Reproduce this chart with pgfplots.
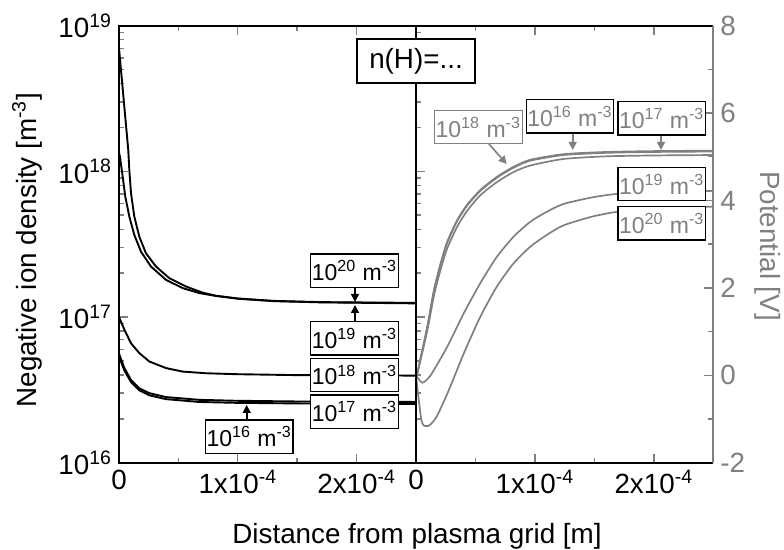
\documentclass[border=0pt]{standalone}
\usepackage{fontspec}
\setmainfont{Liberation Sans}
\usepackage{pgfplots}
\pgfplotsset{compat=1.18}
\usetikzlibrary{arrows.meta}
\definecolor{potgray}{RGB}{128,128,128}
\newcommand{\lbl}[1]{10\textsuperscript{#1} m\textsuperscript{-3}}
\newcommand{\bigfont}{\fontsize{13.9}{16}\selectfont}
\newcommand{\boxfont}{\fontsize{11.5}{14}\selectfont}

\pgfplotsset{
  panel/.style={
    scale only axis, width=148.5pt, height=218.5pt,
    xmin=0, xmax=2.5e-4,
    scaled x ticks=false,
    xtick={0,1e-4,2e-4},
    xticklabels={0,{1x10\textsuperscript{-4}},{2x10\textsuperscript{-4}}},
    minor xtick={5e-5,1.5e-4},
    xtick pos=both, xticklabel pos=bottom,
    tick align=inside,
    major tick length=4.5pt, minor tick length=2.5pt,
    tick style={line width=0.7pt},
    tick label style={font=\bigfont},
    axis line style={line width=1pt},
  },
  pot/.style={potgray, line width=0.85pt, mark=none, smooth, tension=0.4},
  dens/.style={black, line width=0.95pt, mark=none},
}
\tikzset{
  box/.style={draw, line width=0.6pt, fill=white, font=\boxfont,
    minimum width=43.8pt, minimum height=16.7pt, inner sep=0pt},
  arr/.style={line width=0.8pt, -{Triangle[length=4pt,width=4pt]}},
}

\begin{document}
\begin{tikzpicture}
\path[use as bounding box] (0,0) rectangle (392pt,275pt);

% right panel: potential
\begin{axis}[panel, at={(208pt,43.65pt)}, anchor=south west, width=148.65pt,
  ymin=-2, ymax=8,
  ytick={-2,0,2,4,6,8}, yticklabels={-2,0,2,4,6,8},
  minor ytick={-1,1,3,5,7},
  ytick pos=right, yticklabel pos=right,
  yticklabel style={potgray},
  every y tick/.append style={potgray},
  separate axis lines, y axis line style={potgray}]
\addplot[pot] coordinates {
  (0,0)(1.1e-6,0.05)(9.5e-6,1.11)(1.51e-5,1.95)(2.07e-5,2.56)(2.62e-5,3.05)
  (3.46e-5,3.55)(4.29e-5,3.90)(5.41e-5,4.24)(6.8e-5,4.54)(8.2e-5,4.77)
  (9.6e-5,4.93)(1.24e-4,5.06)(1.6e-4,5.11)(2.0e-4,5.13)(2.5e-4,5.14)};
\addplot[pot] coordinates {
  (0,0)(1.1e-6,0.05)(9.5e-6,1.10)(1.51e-5,1.93)(2.07e-5,2.54)(2.62e-5,3.03)
  (3.46e-5,3.53)(4.29e-5,3.88)(5.41e-5,4.22)(6.8e-5,4.52)(8.2e-5,4.75)
  (9.6e-5,4.91)(1.24e-4,5.04)(1.6e-4,5.09)(2.0e-4,5.11)(2.5e-4,5.12)};
\addplot[pot] coordinates {
  (0,0)(1.1e-6,0.04)(9.5e-6,1.02)(1.51e-5,1.82)(2.07e-5,2.42)(2.62e-5,2.90)
  (3.46e-5,3.40)(4.29e-5,3.76)(5.41e-5,4.12)(6.8e-5,4.42)(8.2e-5,4.65)
  (9.6e-5,4.80)(1.24e-4,4.95)(1.6e-4,5.01)(2.0e-4,5.03)(2.5e-4,5.04)};
\addplot[pot] coordinates {
  (0,0)(5.3e-6,-0.17)(1.23e-5,0.0)(2.62e-5,0.65)(4.02e-5,1.42)(5.41e-5,2.11)
  (6.8e-5,2.71)(8.2e-5,3.17)(9.6e-5,3.51)(1.099e-4,3.74)(1.24e-4,3.92)
  (1.48e-4,4.07)(1.69e-4,4.15)(2.0e-4,4.19)(2.5e-4,4.22)};
\addplot[pot] coordinates {
  (0,0)(4.8e-6,-1.06)(1.03e-5,-1.16)(1.73e-5,-0.95)(2.76e-5,-0.34)(4.02e-5,0.5)
  (5.41e-5,1.34)(6.8e-5,2.03)(8.2e-5,2.56)(9.6e-5,2.94)(1.099e-4,3.21)
  (1.24e-4,3.43)(1.48e-4,3.63)(1.69e-4,3.74)(2.0e-4,3.81)(2.5e-4,3.86)};
\end{axis}

% log ticks on the left side of the right panel
\begin{axis}[scale only axis, width=148.65pt, height=218.5pt,
  at={(208pt,43.65pt)}, anchor=south west,
  xmin=0, xmax=1, ymode=log, ymin=1e16, ymax=1e19,
  xtick=\empty, ytick={1e17,1e18}, yticklabels={},
  minor ytick={2e16,3e16,4e16,5e16,6e16,7e16,8e16,9e16,
    2e17,3e17,4e17,5e17,6e17,7e17,8e17,9e17,
    2e18,3e18,4e18,5e18,6e18,7e18,8e18,9e18},
  ytick pos=left, tick align=inside,
  major tick length=4.5pt, minor tick length=2.5pt,
  tick style={line width=0.7pt},
  axis line style={draw=none}]
\end{axis}

% left panel: negative ion density
\begin{axis}[panel, at={(59.5pt,43.65pt)}, anchor=south west,
  ymode=log, ymin=1e16, ymax=1e19,
  ytick={1e16,1e17,1e18,1e19},
  yticklabels={{10\textsuperscript{16}},{10\textsuperscript{17}},{10\textsuperscript{18}},{10\textsuperscript{19}}},
  minor ytick={2e16,3e16,4e16,5e16,6e16,7e16,8e16,9e16,
    2e17,3e17,4e17,5e17,6e17,7e17,8e17,9e17,
    2e18,3e18,4e18,5e18,6e18,7e18,8e18,9e18},
  ytick pos=left]
% n(H) = 1e20
\addplot[dens] coordinates {
  (0,7e18)(7.8e-6,1.4e18)(8.7e-6,1.02e18)(1.01e-5,7.08e17)(1.29e-5,4.89e17)
  (1.71e-5,3.56e17)(2.27e-5,2.74e17)(3.11e-5,2.22e17)(4.23e-5,1.85e17)
  (5.63e-5,1.62e17)(7.03e-5,1.47e17)(8.15e-5,1.40e17)(1.0e-4,1.34e17)
  (1.3e-4,1.29e17)(1.7e-4,1.265e17)(2.5e-4,1.25e17)};
% n(H) = 1e19
\addplot[dens] coordinates {
  (0,1.35e18)(8e-7,1.26e18)(3.1e-6,9.2e17)(5.3e-6,6.7e17)(8.7e-6,4.89e17)
  (1.29e-5,3.66e17)(1.85e-5,2.81e17)(2.69e-5,2.22e17)(3.95e-5,1.80e17)
  (5.35e-5,1.58e17)(6.75e-5,1.46e17)(8.15e-5,1.395e17)(1.0e-4,1.335e17)
  (1.3e-4,1.285e17)(1.7e-4,1.26e17)(2.5e-4,1.24e17)};
% n(H) = 1e18
\addplot[dens] coordinates {
  (0,1.0e17)(4.5e-6,8.2e16)(1.01e-5,6.6e16)(1.71e-5,5.65e16)(2.55e-5,4.95e16)
  (3.95e-5,4.46e16)(5.35e-5,4.22e16)(7.31e-5,4.11e16)(9.83e-5,4.05e16)
  (1.5e-4,3.99e16)(2.5e-4,3.96e16)};
% n(H) = 1e17
\addplot[dens] coordinates {
  (0,5.6e16)(4.5e-6,4.46e16)(1.01e-5,3.7e16)(1.71e-5,3.24e16)(2.55e-5,3.0e16)
  (3.95e-5,2.82e16)(6.75e-5,2.70e16)(9.83e-5,2.66e16)(1.5e-4,2.63e16)
  (2.5e-4,2.61e16)};
% n(H) = 1e16
\addplot[dens] coordinates {
  (0,5.35e16)(4.5e-6,4.3e16)(1.01e-5,3.58e16)(1.71e-5,3.14e16)(2.55e-5,2.9e16)
  (3.95e-5,2.73e16)(6.75e-5,2.61e16)(9.83e-5,2.575e16)(1.5e-4,2.55e16)
  (2.5e-4,2.53e16)};
\end{axis}

% annotations, in reference pixel units (origin top left)
\begin{scope}[x=0.5pt, y=-0.5pt, yshift=275pt]
\node[font=\bigfont, rotate=90] at (27,250) {Negative ion density [m\textsuperscript{-3}]};
\node[font=\bigfont, rotate=-90, text=potgray] at (768,246) {Potential [V]};
\node[font=\bigfont] at (417,536) {Distance from plasma grid [m]};

\draw[arr] (355,287) -- (355,302);
\draw[arr] (355,322) -- (355,305);
\draw[arr] (246.7,420) -- (246.7,405);
\node[box] at (354.5,270.7) {\lbl{20}};
\node[box] at (354.5,338.3) {\lbl{19}};
\node[box] at (354.5,375) {\lbl{18}};
\node[box] at (354.5,411.7) {\lbl{17}};
\node[box] at (249.2,436.7) {\lbl{16}};

\draw[arr, potgray] (488.3,143.3) -- (506.7,164);
\draw[arr, potgray] (572.7,132.7) -- (572.7,150);
\draw[arr, potgray] (661,135) -- (661,150);
\node[box, draw=potgray, text=potgray] at (478.3,127.2) {\lbl{18}};
\node[box, text=potgray] at (570,116.3) {\lbl{16}};
\node[box, text=potgray] at (661.7,118.3) {\lbl{17}};
\node[box, text=potgray] at (661.7,184.2) {\lbl{19}};
\node[box, text=potgray] at (661.7,223.3) {\lbl{20}};

\node[draw, line width=0.6pt, fill=white, font=\bigfont, minimum width=59pt,
  minimum height=22pt, inner sep=0pt] at (416,61) {n(H)=...};
\end{scope}
\end{tikzpicture}
\end{document}
